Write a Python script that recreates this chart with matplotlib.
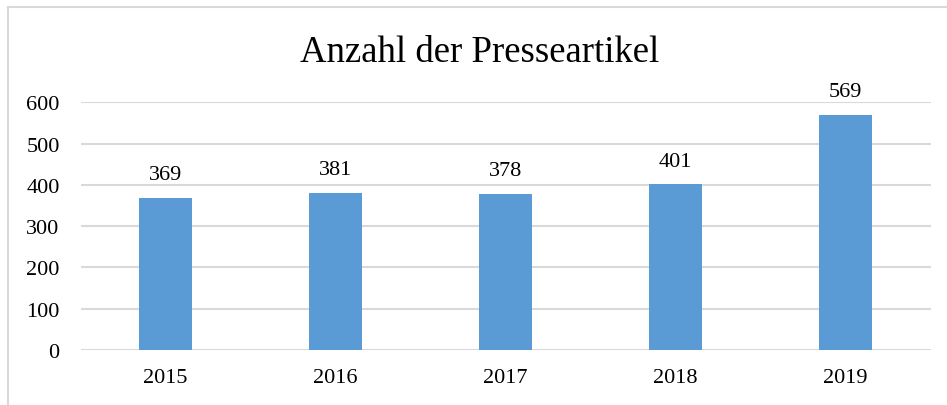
import matplotlib.pyplot as plt
from matplotlib.lines import Line2D

years = ['2015', '2016', '2017', '2018', '2019']
counts = [369, 381, 378, 401, 569]
yticks = [0, 100, 200, 300, 400, 500, 600]

plt.rcParams['font.family'] = ['Liberation Serif', 'DejaVu Serif']

W, H = 947, 406
fig = plt.figure(figsize=(W / 100, H / 100), dpi=100)
ax = fig.add_axes([80.5 / W, (H - 351) / H, 850 / W, 247.7 / H])

x = range(len(years))
bars = ax.bar(x, counts, width=0.31, color='#5B9BD5', zorder=3)

ax.set_xlim(-0.5, 4.5)
ax.set_ylim(0, 600)
ax.set_yticks(yticks)
ax.set_xticks(list(x))
ax.set_xticklabels(years)
ax.yaxis.grid(True, color='#D9D9D9', linewidth=1.5, zorder=0)
for s in ax.spines.values():
    s.set_visible(False)
ax.tick_params(axis='both', length=0, labelsize=16, labelcolor='black')
ax.tick_params(axis='y', pad=15)
ax.tick_params(axis='x', pad=13)

for xi, v in zip(x, counts):
    ax.annotate(str(v), (xi, v), xytext=(0, 10), textcoords='offset points',
                ha='center', va='bottom', fontsize=16)

fig.text(480 / W, 1 - 53 / H, 'Anzahl der Presseartikel', ha='center', va='center', fontsize=26.5)

# chart border (left and top visible)
fig.add_artist(Line2D([7.5 / W, 7.5 / W], [0, 1 - 7.5 / H], color='#D9D9D9', linewidth=1.5))
fig.add_artist(Line2D([7.5 / W, 1], [1 - 7.5 / H, 1 - 7.5 / H], color='#D9D9D9', linewidth=1.5))

fig.savefig('out.png', dpi=100)
